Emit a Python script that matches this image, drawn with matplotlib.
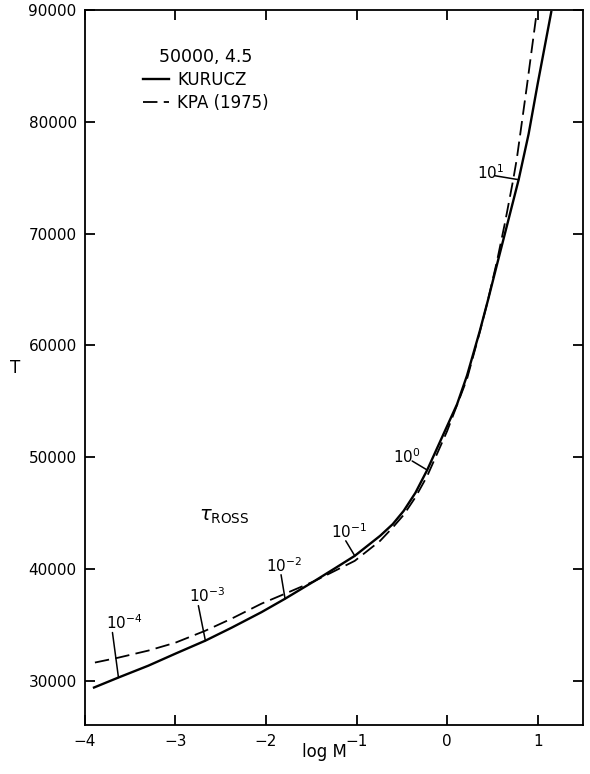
import matplotlib
matplotlib.use('Agg')
import matplotlib.pyplot as plt

plt.rcParams['font.family'] = ['DejaVu Sans']

# Kurucz model (solid)
logm_kurucz = [-3.90, -3.63, -3.30, -3.00, -2.67, -2.38, -2.05, -1.79, -1.47, -1.23,
               -1.02, -0.74, -0.60, -0.48, -0.35, -0.22, 0.00, 0.11, 0.22, 0.36,
               0.45, 0.55, 0.67, 0.79, 0.90, 1.00, 1.15]
t_kurucz = [29375, 30270, 31330, 32410, 33570, 34730, 36120, 37320, 38880, 40090,
            41160, 42950, 44000, 45180, 46800, 48840, 52770, 54730, 57300, 61250,
            64000, 67200, 71000, 74820, 78900, 83390, 89820]

# KPA (1975) model (dashed)
logm_kpa = [-3.89, -3.63, -3.30, -3.00, -2.67, -2.38, -2.05, -1.79, -1.47, -1.02,
            -0.74, -0.60, -0.48, -0.35, -0.22, 0.00, 0.22, 0.36, 0.45, 0.55,
            0.64, 0.73, 0.77, 0.88, 0.99]
t_kpa = [31610, 32050, 32680, 33390, 34460, 35540, 36880, 37770, 38880, 40710,
         42500, 43700, 44820, 46400, 48300, 52320, 57000, 61160, 64000, 67500,
         71000, 74820, 76700, 83130, 89820]

# tau_Ross markers on the curves
tau_exp = [-4, -3, -2, -1, 0, 1]
tau_logm = [-3.63, -2.67, -1.79, -1.02, -0.22, 0.79]
tau_t = [30270, 33570, 37320, 41160, 48840, 74820]

# tick stroke and label offsets (pixels) for each marker
line_off = [(-6, 45), (-7, 35), (-4, 24), (-9, 15), (-15, 9), (-24, 4)]
label_off = [(-12, 49), (-16, 39), (-19, 27), (-24, 18), (-34, 7), (-42, 1)]

fig = plt.figure(figsize=(5.9, 7.74), dpi=100)
ax = fig.add_axes([0.144, 0.063, 0.844, 0.924])

ax.plot(logm_kurucz, t_kurucz, color='black', lw=1.7, label='KURUCZ')
ax.plot(logm_kpa, t_kpa, color='black', lw=1.3, ls=(0, (8, 3.5)), label='KPA (1975)')

for e, x, y, lo, to in zip(tau_exp, tau_logm, tau_t, line_off, label_off):
    ax.annotate('', xy=(x, y), xytext=lo, textcoords='offset pixels',
                arrowprops=dict(arrowstyle='-', color='black', lw=1.1,
                                shrinkA=0, shrinkB=0))
    ax.annotate(r'$\mathregular{10^{%d}}$' % e, xy=(x, y), xytext=to,
                textcoords='offset pixels', ha='left', va='baseline', fontsize=11)

ax.text(-2.74, 44300, r'$\tau_{\mathregular{ROSS}}$', fontsize=14)

ax.set_xlim(-4, 1.5)
ax.set_ylim(26000, 90000)
ax.set_xticks(range(-4, 2))
ax.set_yticks(range(30000, 90001, 10000))
ax.tick_params(direction='in', top=True, right=True, length=7, width=1.3,
               labelsize=11, pad=6)
for s in ax.spines.values():
    s.set_linewidth(1.3)

ax.set_xlabel('log M', fontsize=12, labelpad=1)
ax.xaxis.set_label_coords(0.48, -0.025)
ax.xaxis.label.set_va('top')
ax.set_ylabel('T', fontsize=12, rotation=0, va='center')
ax.yaxis.set_label_coords(-0.141, 0.5)

ax.legend(title='50000, 4.5', loc='upper left', bbox_to_anchor=(0.116, 0.947),
          frameon=False, fontsize=12, title_fontsize=12.5, handlelength=1.6,
          handletextpad=0.45, labelspacing=0.3, borderpad=0, borderaxespad=0)

fig.savefig('out.png', dpi=100)
